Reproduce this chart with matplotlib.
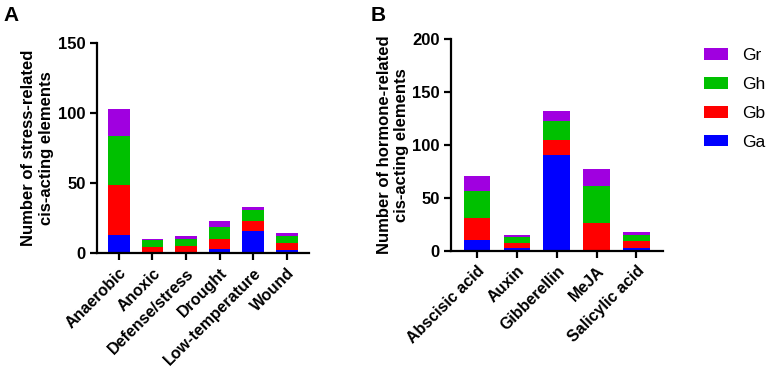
import matplotlib.pyplot as plt
from matplotlib.patches import Patch
import numpy as np

plt.rcParams['font.family'] = ['Liberation Sans', 'DejaVu Sans']

# Panel A - stress related elements
stress_cats = ['Anaerobic', 'Anoxic', 'Defense/stress', 'Drought', 'Low-temperature', 'Wound']
stress_ga = [13, 1, 1, 3, 16, 2]
stress_gb = [36, 3, 4, 7, 7, 5]
stress_gh = [35, 5, 5, 9, 8, 5]
stress_gr = [19, 1, 2, 4, 2, 2]

# Panel B - hormone related elements
hormone_cats = ['Abscisic acid', 'Auxin', 'Gibberellin', 'MeJA', 'Salicylic acid']
hormone_ga = [10, 3, 91, 0, 3]
hormone_gb = [21, 4, 14, 26, 6]
hormone_gh = [26, 6, 18, 35, 6]
hormone_gr = [14, 2, 9, 16, 3]

series_names = ['Ga', 'Gb', 'Gh', 'Gr']
colors = ['#0000FF', '#FF0000', '#00C000', '#A000E0']

fig = plt.figure(figsize=(7.68, 3.70), dpi=100)
axA = fig.add_axes([0.126, 0.316, 0.276, 0.567])
axB = fig.add_axes([0.587, 0.322, 0.276, 0.572])


def stacked(ax, cats, layers, width, ymax, yticks, ylabel, lpad):
    x = np.arange(len(cats))
    bottom = np.zeros(len(cats))
    for vals, c in zip(layers, colors):
        ax.bar(x, vals, width, bottom=bottom, color=c, linewidth=0)
        bottom += np.array(vals)
    ax.set_xlim(-0.66, len(cats) - 0.34)
    ax.set_ylim(0, ymax)
    ax.set_yticks(yticks)
    ax.set_xticks(x)
    ax.set_xticklabels(cats, rotation=45, ha='right', rotation_mode='anchor',
                       fontsize=11.5, fontweight='bold')
    for lab in ax.get_yticklabels():
        lab.set_fontsize(12)
        lab.set_fontweight('bold')
    ax.set_ylabel(ylabel, fontsize=12, fontweight='bold', labelpad=lpad)
    for s in ['top', 'right']:
        ax.spines[s].set_visible(False)
    for s in ['left', 'bottom']:
        ax.spines[s].set_linewidth(1.6)
    ax.tick_params(width=1.6, length=5, pad=3)
    ax.tick_params(axis='x', pad=4)


stacked(axA, stress_cats, [stress_ga, stress_gb, stress_gh, stress_gr], 0.65,
        150, [0, 50, 100, 150], 'Number of stress-related\ncis-acting elements', 3)
stacked(axB, hormone_cats, [hormone_ga, hormone_gb, hormone_gh, hormone_gr], 0.67,
        200, [0, 50, 100, 150, 200], 'Number of hormone-related\ncis-acting elements', 2)

fig.text(0.004, 0.943, 'A', fontsize=15, fontweight='bold')
fig.text(0.482, 0.943, 'B', fontsize=15, fontweight='bold')

handles = [Patch(facecolor=c, edgecolor='none') for c in colors][::-1]
fig.legend(handles, series_names[::-1], loc='upper left', bbox_to_anchor=(0.917, 0.87),
           frameon=False, fontsize=12.5, handlelength=1.35, handleheight=0.65,
           labelspacing=0.8, handletextpad=0.85, borderpad=0, borderaxespad=0)

fig.savefig('out.png', dpi=100, facecolor='white')
